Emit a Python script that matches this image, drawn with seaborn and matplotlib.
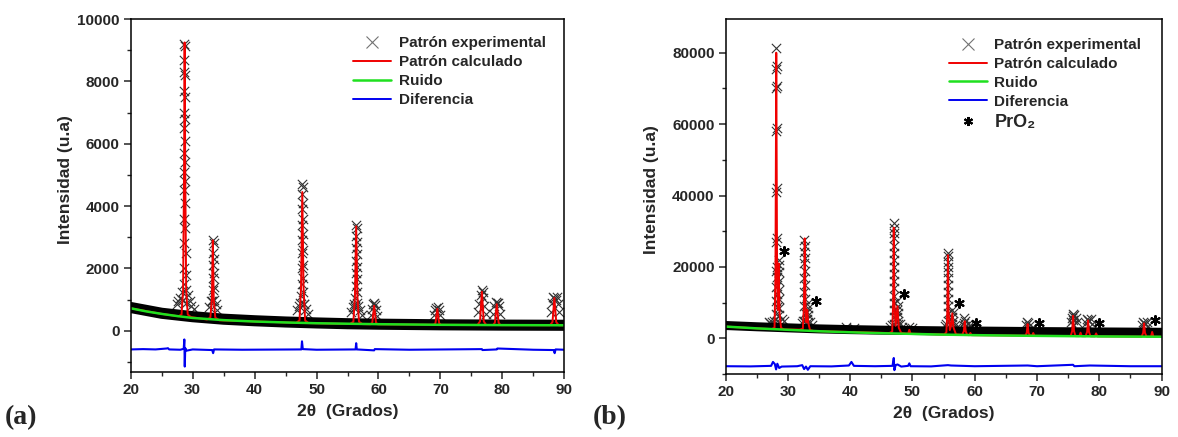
import matplotlib
matplotlib.use("Agg")
import matplotlib.pyplot as plt
from matplotlib.lines import Line2D
from matplotlib.ticker import MultipleLocator
import seaborn as sns

# ---------------- panel (a) ----------------
bg_a_x = [20, 22.5, 25, 27.5, 30, 35, 40, 45, 50, 60, 70, 80, 90]
bg_a_y = [720, 620, 540, 470, 410, 340, 295, 265, 240, 210, 190, 180, 175]

band_a_x = [20, 25, 30, 35, 40, 45, 50, 55, 60, 70, 80, 90]
band_a_y = [745, 560, 450, 370, 320, 280, 250, 225, 210, 190, 180, 175]

calc_a_x = [20, 25, 27.7, 28.2, 28.45, 28.6, 28.7, 28.8, 28.95, 29.2, 29.7,
            32.3, 32.85, 33.1, 33.25, 33.4, 33.65, 34.3,
            46.7, 47.25, 47.5, 47.7, 47.9, 48.15, 48.7,
            55.4, 55.95, 56.2, 56.4, 56.6, 56.85, 57.4,
            58.7, 59.0, 59.3, 59.6, 59.9,
            68.9, 69.2, 69.5, 69.8, 70.1,
            76.0, 76.4, 76.7, 77.0, 77.4,
            78.5, 78.8, 79.1, 79.4, 79.7,
            87.7, 88.1, 88.4, 88.7, 89.1, 90]
calc_a_y = [720, 540, 465, 520, 1300, 5000, 9250, 5000, 1300, 520, 440,
            360, 420, 1000, 2900, 1000, 420, 335,
            255, 330, 1400, 4450, 1400, 330, 245,
            215, 290, 1100, 3350, 1100, 290, 212,
            207, 260, 800, 260, 205,
            192, 240, 700, 240, 190,
            186, 300, 1250, 300, 184,
            182, 260, 850, 260, 180,
            177, 280, 1050, 280, 175, 175]

exp_a_x = [28.60, 28.62, 28.60, 28.62, 28.60, 28.62, 28.60, 28.62, 28.60, 28.62, 28.58, 28.56, 28.52, 28.45,
           28.78, 28.80, 28.78, 28.80, 28.78, 28.80, 28.78, 28.80, 28.82, 28.84, 28.88, 28.92, 28.98,
           27.4, 27.7, 28.0, 28.25, 29.2, 29.5, 29.8, 30.2,
           33.22, 33.24, 33.22, 33.24, 33.20, 33.15, 33.38, 33.40, 33.38, 33.42, 33.45,
           32.6, 32.9, 33.7, 34.0,
           47.62, 47.64, 47.62, 47.64, 47.62, 47.64, 47.60, 47.58, 47.55,
           47.80, 47.78, 47.80, 47.78, 47.80, 47.82, 47.84, 47.86, 47.90,
           46.9, 47.2, 47.4, 48.0, 48.3, 48.6,
           56.32, 56.34, 56.32, 56.34, 56.32, 56.30, 56.28, 56.25,
           56.50, 56.48, 56.50, 56.52, 56.54, 56.56, 56.60,
           55.6, 55.9, 56.1, 56.75, 57.0, 57.3,
           58.8, 59.0, 59.15, 59.3, 59.45, 59.6, 59.8,
           69.0, 69.2, 69.35, 69.55, 69.75, 69.95,
           76.1, 76.3, 76.5, 76.65, 76.8, 76.95, 77.1, 77.3,
           78.5, 78.7, 78.9, 79.1, 79.3, 79.5, 79.7,
           87.8, 88.0, 88.2, 88.4, 88.6, 88.8, 89.0, 89.2]
exp_a_y = [9200, 8700, 8300, 7700, 7000, 6500, 5700, 5100, 4500, 3600, 2800, 2000, 1500, 1000,
           9150, 8200, 7500, 6800, 6100, 5400, 4800, 4100, 3300, 2500, 1800, 1300, 900,
           850, 950, 1050, 1250, 1150, 950, 800, 700,
           2900, 2500, 2100, 1700, 1300, 950, 2800, 2300, 1850, 1400, 1000,
           750, 950, 850, 650,
           4700, 4400, 3900, 3400, 2900, 2500, 2000, 1500, 1100,
           4600, 4100, 3600, 3100, 2600, 2100, 1700, 1250, 850,
           650, 800, 900, 850, 700, 550,
           3400, 3050, 2650, 2250, 1850, 1450, 1050, 750,
           3300, 2850, 2450, 2050, 1650, 1250, 900,
           600, 750, 850, 800, 650, 500,
           500, 700, 850, 880, 830, 650, 480,
           500, 650, 740, 760, 680, 500,
           600, 850, 1150, 1300, 1250, 1050, 800, 550,
           550, 800, 920, 880, 900, 800, 550,
           600, 900, 1080, 1050, 1000, 1080, 850, 600]

diff_a_x = [20, 22, 24, 25.8, 26.0, 26.2, 28, 28.55, 28.65, 28.72, 28.8, 29.0, 30,
            33.15, 33.3, 33.45, 38, 47.55, 47.65, 47.78, 50, 56.3, 56.4, 56.5,
            59.3, 59.4, 65, 76.7, 76.8, 79.1, 79.2, 85, 88.3, 88.45, 88.6, 90]
diff_a_y = [-600, -590, -600, -570, -560, -600, -610, -580, -280, -1150, -560, -640, -600,
            -620, -720, -600, -610, -600, -340, -590, -610, -600, -400, -600,
            -630, -590, -610, -590, -620, -600, -570, -610, -620, -720, -600, -610]

# ---------------- panel (b) ----------------
bg_b_x = [20, 25, 30, 35, 40, 45, 50, 55, 60, 70, 80, 90]
bg_b_y = [3300, 2800, 2400, 2000, 1700, 1450, 1250, 1050, 900, 700, 550, 450]

band_b_x = [20, 25, 30, 35, 40, 45, 50, 55, 60, 70, 80, 90]
band_b_y = [3600, 3250, 2950, 2650, 2450, 2300, 2200, 2100, 2050, 1900, 1800, 1700]

calc_b_x = [20, 25, 27.4, 27.85, 28.0, 28.13, 28.26, 28.38, 28.52, 28.66, 28.9, 29.4,
            31.9, 32.4, 32.57, 32.7, 32.83, 32.97, 33.1, 33.25, 33.55, 34.2,
            46.3, 46.75, 46.9, 47.0, 47.1, 47.3, 47.6, 47.8, 48.2, 49.3, 49.5, 49.7,
            55.1, 55.45, 55.6, 55.7, 55.8, 56.0, 56.2, 56.4, 56.6, 57.0,
            58.0, 58.25, 58.4, 58.55, 58.8, 59.1, 59.3, 59.5,
            68.1, 68.35, 68.5, 68.65, 68.9, 69.2, 69.4, 69.6,
            75.4, 75.65, 75.8, 75.95, 76.2, 76.8, 77.0, 77.2,
            77.8, 78.05, 78.2, 78.35, 78.6, 79.3, 79.5, 79.7,
            86.8, 87.05, 87.2, 87.35, 87.6, 88.3, 88.5, 88.7, 90]
calc_b_y = [3300, 2800, 2600, 3000, 18000, 80000, 18000, 8000, 21000, 7000, 2900, 2500,
            2450, 2700, 9000, 28000, 9000, 4500, 8000, 4500, 2300, 2050,
            1500, 1900, 10000, 31000, 10000, 3500, 9000, 3000, 1500, 1300, 2400, 1300,
            1100, 1700, 7500, 23300, 7500, 2300, 3500, 7000, 3000, 1100,
            1000, 2000, 4800, 2000, 950, 900, 1500, 900,
            750, 1500, 4000, 1500, 740, 720, 1500, 710,
            650, 2000, 6300, 2000, 630, 620, 1600, 610,
            600, 1800, 5000, 1800, 580, 560, 1400, 550,
            480, 1500, 4200, 1500, 470, 460, 1800, 455, 450]

exp_b_x = [28.08, 28.18, 28.08, 28.18, 28.08, 28.18, 28.08, 28.18, 28.08, 28.18,
           28.08, 28.18, 28.08, 28.18, 28.08, 28.18, 28.08, 28.18, 28.08, 28.18,
           28.50, 28.60, 28.50, 28.60, 28.50, 28.60, 28.50, 28.60, 28.55,
           26.9, 27.2, 27.5, 27.8, 29.0, 29.3,
           32.66, 32.74, 32.66, 32.74, 32.66, 32.74, 32.66, 32.74, 32.66, 32.74, 32.66, 32.74, 32.66,
           33.05, 33.20, 33.05, 33.20, 33.05, 33.20,
           32.2, 32.4, 33.5, 33.8,
           46.96, 47.04, 46.96, 47.04, 46.96, 47.04, 46.96, 47.04, 46.96, 47.04, 46.96, 47.04,
           46.96, 47.04, 46.96, 47.04,
           47.55, 47.70, 47.55, 47.70, 47.55, 47.70, 47.60,
           46.4, 46.7, 48.0, 48.3, 39.4, 40.6, 49.5, 50.0,
           55.66, 55.75, 55.66, 55.75, 55.66, 55.75, 55.66, 55.75, 55.66, 55.75, 55.66, 55.75,
           56.35, 56.50, 56.35, 56.50, 56.40,
           55.2, 55.4, 56.9, 57.2,
           58.35, 58.45, 58.35, 58.45, 58.9, 59.3,
           68.3, 68.45, 68.6, 68.75, 69.3,
           75.4, 75.6, 75.75, 75.85, 76.0, 76.2, 76.4, 75.8, 75.8,
           77.9, 78.1, 78.25, 78.4, 78.6, 78.8,
           86.8, 87.0, 87.2, 87.4, 87.6, 87.8]
exp_b_y = [81400, 76300, 75300, 70800, 70200, 58900, 58000, 42000, 41100, 28000,
           27000, 20000, 19000, 17200, 14400, 12500, 10600, 8700, 6800, 5000,
           22000, 20500, 18500, 16000, 13500, 11000, 8500, 6500, 4500,
           4500, 4300, 4500, 5000, 5500, 4800,
           27500, 26000, 24200, 22500, 21000, 19000, 17000, 15000, 13000, 11000, 9000, 7000, 5000,
           9500, 8500, 7500, 6500, 5500, 4500,
           4200, 5000, 4500, 3800,
           32300, 31000, 29500, 28000, 26000, 24000, 22000, 20000, 18000, 16000, 14000, 12000,
           10000, 8000, 6000, 4000,
           10500, 9200, 8000, 7000, 6000, 5000, 4000,
           3300, 3800, 4000, 3300, 3200, 3000, 3200, 2900,
           24000, 23000, 21500, 20000, 18500, 17000, 15000, 13000, 11000, 9000, 7000, 5000,
           8000, 7000, 6000, 5000, 4000,
           3400, 4000, 3800, 3200,
           5600, 4900, 4200, 3500, 4000, 3800,
           3800, 4600, 4300, 3600, 3300,
           4500, 5800, 6700, 6200, 6600, 5800, 4500, 5200, 3800,
           4200, 5500, 5100, 4800, 5300, 4000,
           3800, 4500, 4300, 3900, 4600, 3600]

diff_b_x = [20, 24, 27.3, 27.6, 27.9, 28.1, 28.3, 28.6, 29.0, 31.5, 32.3, 32.6, 32.9, 33.2,
            33.6, 37, 39.8, 40.2, 40.6, 44, 46.8, 47.0, 47.1, 47.3, 47.6, 48.2, 49.3, 49.5,
            49.7, 53, 55.7, 56.2, 60, 68.5, 70, 75.8, 76, 78.5, 85, 90]
diff_b_y = [-7800, -7850, -7700, -6600, -7200, -8700, -7100, -8300, -7900, -7800, -7500,
            -8600, -7900, -8800, -7800, -7850, -7600, -6600, -7700, -7800, -7700, -5500,
            -8900, -7500, -7300, -7900, -7700, -7000, -7800, -7850, -7500, -7600, -7800,
            -7600, -7800, -7400, -7800, -7600, -7800, -7800]

star_b_x = [29.3, 34.5, 48.7, 57.5, 60.2, 70.3, 79.9, 89.0]
star_b_y = [24500, 10600, 12300, 9800, 4400, 4400, 4200, 5200]

labels = ["Patrón experimental", "Patrón calculado", "Ruido", "Diferencia"]

RED = "#f00000"
GREEN = "#1fe01f"
BLUE = "#0000f0"
STAR = (6, 2, 0)

sns.set_style("ticks")
plt.rcParams["font.family"] = ["Liberation Sans", "DejaVu Sans"]
plt.rcParams["font.weight"] = "bold"
plt.rcParams["axes.labelweight"] = "bold"

fig = plt.figure(figsize=(11.78, 4.37), dpi=100)
ax_a = fig.add_axes([0.111, 0.1494, 0.368, 0.807])
ax_b = fig.add_axes([0.616, 0.144, 0.370, 0.813])


def draw_panel(ax, band_x, band_y, band_lw, exp_x, exp_y, calc_x, calc_y,
               bg_x, bg_y, diff_x, diff_y):
    sns.lineplot(x=band_x, y=band_y, ax=ax, color="black", lw=band_lw,
                 estimator=None, sort=False)
    sns.scatterplot(x=exp_x, y=exp_y, ax=ax, marker="x", color="0.2",
                    s=45, linewidth=0.8)
    sns.lineplot(x=calc_x, y=calc_y, ax=ax, color=RED, lw=1.4,
                 estimator=None, sort=False)
    sns.lineplot(x=bg_x, y=bg_y, ax=ax, color=GREEN, lw=1.8,
                 estimator=None, sort=False)
    sns.lineplot(x=diff_x, y=diff_y, ax=ax, color=BLUE, lw=1.5,
                 estimator=None, sort=False)
    ax.set_xlim(20, 90)
    ax.xaxis.set_major_locator(MultipleLocator(10))
    ax.xaxis.set_minor_locator(MultipleLocator(5))
    ax.tick_params(which="major", direction="out", length=5, width=1.1,
                   labelsize=11, pad=3)
    ax.tick_params(which="minor", direction="out", length=3, width=1.0)
    for sp in ax.spines.values():
        sp.set_visible(True)
        sp.set_linewidth(1.1)
        sp.set_color("black")
    ax.set_xlabel("2θ  (Grados)", fontsize=12.5, labelpad=5)
    ax.set_ylabel("Intensidad (u.a)", fontsize=12.5)


draw_panel(ax_a, band_a_x, band_a_y, 8, exp_a_x, exp_a_y, calc_a_x, calc_a_y,
           bg_a_x, bg_a_y, diff_a_x, diff_a_y)
ax_a.set_ylim(-1315, 10000)
ax_a.yaxis.set_major_locator(MultipleLocator(2000))
ax_a.yaxis.set_minor_locator(MultipleLocator(1000))
ax_a.yaxis.set_label_coords(-0.133, 0.5435)

draw_panel(ax_b, band_b_x, band_b_y, 6.5, exp_b_x, exp_b_y, calc_b_x, calc_b_y,
           bg_b_x, bg_b_y, diff_b_x, diff_b_y)
sns.scatterplot(x=star_b_x, y=star_b_y, ax=ax_b, marker=STAR, color="black",
                s=42, linewidth=1.5)
ax_b.set_ylim(-10000, 89500)
ax_b.yaxis.set_major_locator(MultipleLocator(20000))
ax_b.yaxis.set_minor_locator(MultipleLocator(10000))
ax_b.yaxis.set_label_coords(-0.153, 0.518)

handles = [
    Line2D([], [], ls="none", marker="x", color="0.45", ms=8, mew=0.8),
    Line2D([], [], color=RED, lw=1.4),
    Line2D([], [], color=GREEN, lw=1.8),
    Line2D([], [], color=BLUE, lw=1.4),
]
leg_kw = dict(loc="upper left", frameon=False, fontsize=11, handlelength=2.45,
              handletextpad=0.5, labelspacing=0.32, borderaxespad=0, borderpad=0)
ax_a.legend(handles, labels, bbox_to_anchor=(0.5137, 0.951), **leg_kw)

handles_b = handles + [Line2D([], [], ls="none", marker=STAR, color="black",
                              ms=6.5, mew=1.5)]
leg_b = ax_b.legend(handles_b, labels + ["PrO₂"], bbox_to_anchor=(0.513, 0.946),
                    **leg_kw)
leg_b.get_texts()[-1].set_fontsize(13)

fig.text(0.004, 0.045, "(a)", fontsize=20, fontweight="bold",
         family="Liberation Serif", ha="left", va="center")
fig.text(0.503, 0.045, "(b)", fontsize=20, fontweight="bold",
         family="Liberation Serif", ha="left", va="center")

fig.savefig("out.png", dpi=100)
plt.close(fig)
